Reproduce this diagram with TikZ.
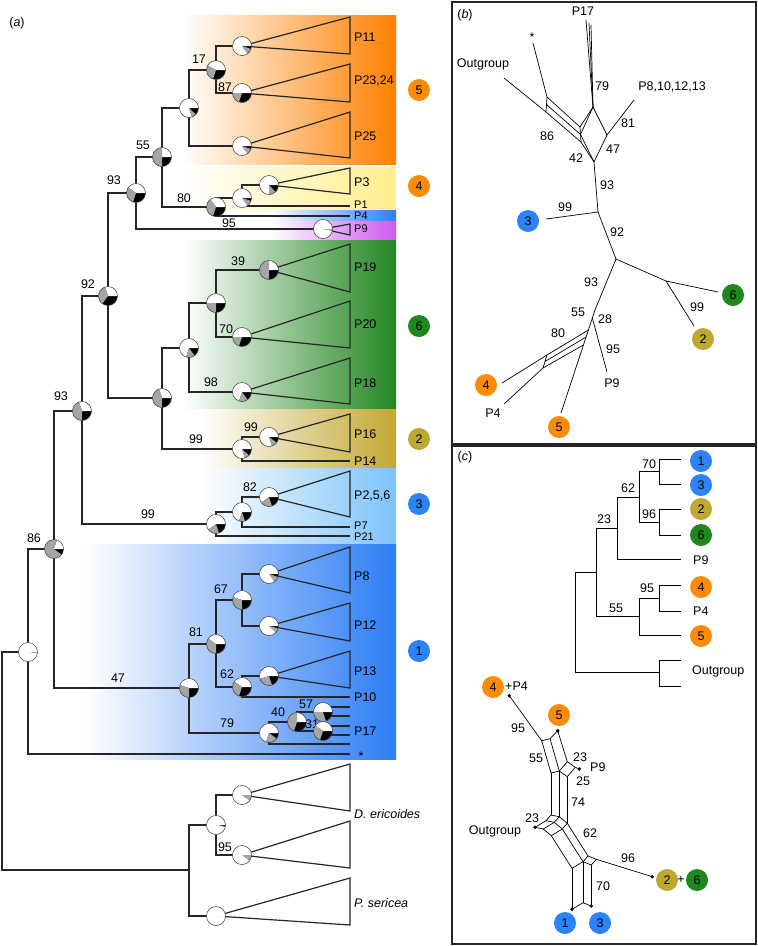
\documentclass[tikz,border=0pt]{standalone}
\usepackage{fontspec}
\setmainfont{Liberation Sans}
\usetikzlibrary{calc}
\definecolor{bOr}{RGB}{255,128,0}
\definecolor{bYe}{RGB}{255,238,140}
\definecolor{bBl}{RGB}{45,125,245}
\definecolor{bLb}{RGB}{125,195,250}
\definecolor{bGr}{RGB}{35,135,35}
\definecolor{bOl}{RGB}{195,168,50}
\definecolor{bMa}{RGB}{205,90,240}
\definecolor{cOr}{RGB}{250,140,10}
\definecolor{cBl}{RGB}{45,130,245}
\definecolor{cGr}{RGB}{30,135,30}
\definecolor{cOl}{RGB}{190,168,50}
\definecolor{pieg}{RGB}{165,165,165}
\newcount\lbn
\newcommand\lab[3]{\global\advance\lbn by 1 \node[lbl] (t\the\lbn) at (#1,#2) {#3};}
\newcommand\tip[3]{\global\advance\lbn by 1 \node[tipl] (t\the\lbn) at (#1,#2) {#3};}
\newcommand\tips[3]{\global\advance\lbn by 1 \node[tipl,font=\fontsize{11}{12}\selectfont] (t\the\lbn) at (#1,#2) {#3};}
\newcommand\grp[4]{\global\advance\lbn by 1 \node[grpc,fill=#3] (t\the\lbn) at (#1,#2) {#4};}
\newcommand\pie[3]{%
 \begin{scope}[shift={(#1)}]
  \fill[black] (0,0) circle[radius=9.5];
  \fill[white] (0,0) -- (0:9.5) arc[start angle=0,delta angle={-3.6*#2},radius=9.5] -- cycle;
  \fill[pieg] (0,0) -- ({-3.6*#2}:9.5) arc[start angle={-3.6*#2},delta angle={-3.6*#3},radius=9.5] -- cycle;
  \draw[black!70,line width=0.5pt] (0,0) circle[radius=9.5];
 \end{scope}}
\newcommand\tri[3]{\draw[tree,line join=miter] (#1) -- (350,#2) -- (350,#3) -- cycle;}
\begin{document}
\begin{tikzpicture}[x=1pt,y=-1pt,font=\fontsize{12.5}{14}\selectfont,
 tree/.style={draw=black!85,line width=1.2pt},
 net/.style={draw=black,line width=0.7pt},
 lbl/.style={inner sep=0pt,anchor=center},
 tipl/.style={inner sep=0pt,anchor=west},
 grpc/.style={circle,minimum size=22pt,inner sep=0pt},
 dotc/.style={circle,fill=black,minimum size=3.8pt,inner sep=0pt},
 panel/.style={draw=black!85,line width=1.6pt}]
\useasboundingbox (0,0) rectangle (758,946);
% ---------------- panel a: bands
\shade[left color=white,right color=bOr] (183,15) rectangle (396,164);
\shade[left color=white,right color=bYe] (183,167) rectangle (396,210);
\shade[left color=white,right color=bBl] (270,210) rectangle (396,221);
\shade[left color=white,right color=bMa] (270,221) rectangle (396,239);
\shade[left color=white,right color=bGr] (183,240) rectangle (396,409);
\shade[left color=white,right color=bOl] (200,409) rectangle (396,468);
\shade[left color=white,right color=bLb] (200,468) rectangle (396,544);
\shade[left color=white,right color=bBl] (85,544) rectangle (396,759);
% ---------------- panel a: nodes
\coordinate (i1) at (28,652);
\coordinate (n86) at (54,549);
\coordinate (n93b) at (82,411);
\coordinate (n92) at (108,296);
\coordinate (n93a) at (136,193);
\coordinate (n55) at (162,157);
\coordinate (n5) at (189,108);
\coordinate (n17) at (216,70);
\coordinate (p11) at (242,46);
\coordinate (p2324) at (242,93);
\coordinate (p25) at (242,146);
\coordinate (n80) at (216,207);
\coordinate (n4) at (242,198);
\coordinate (p3) at (269,185);
\coordinate (l1) at (350,206);
\coordinate (l4) at (350,216);
\coordinate (p9) at (323,229);
\coordinate (ng) at (162,398);
\coordinate (n6) at (189,348);
\coordinate (n39) at (216,303);
\coordinate (p19) at (269,270);
\coordinate (p20) at (242,337);
\coordinate (p18) at (242,392);
\coordinate (n2) at (242,449);
\coordinate (p16) at (269,437);
\coordinate (l14) at (350,461);
\coordinate (n3) at (216,524);
\coordinate (n82) at (242,512);
\coordinate (p256) at (269,497);
\coordinate (l7) at (350,527);
\coordinate (l21) at (350,536);
\coordinate (n47) at (189,688);
\coordinate (n81) at (216,644);
\coordinate (n67) at (242,600);
\coordinate (p8) at (269,574);
\coordinate (p12) at (269,626);
\coordinate (n62) at (242,687);
\coordinate (p13) at (269,676);
\coordinate (l10) at (350,697);
\coordinate (n79) at (269,733);
\coordinate (n40) at (297,722);
\coordinate (n57) at (323,712);
\coordinate (n31) at (323,731);
\coordinate (la) at (350,707);
\coordinate (lb) at (350,716);
\coordinate (lc) at (350,726);
\coordinate (ld) at (350,735);
\coordinate (le) at (350,744);
\coordinate (lstar) at (350,754);
\coordinate (r0) at (2,760);
\coordinate (og) at (189,870);
\coordinate (og1) at (216,825);
\coordinate (de1) at (242,795);
\coordinate (de2) at (242,855);
\coordinate (ps) at (216,916);
% edges
\draw[tree] (i1) -| (r0) |- (og);
\foreach \a/\b in {i1/n86,i1/lstar,n86/n93b,n86/n47,n93b/n92,n93b/n3,n92/n93a,n92/ng,
  n93a/n55,n93a/p9,n55/n5,n55/n80,n5/n17,n5/p25,n17/p11,n17/p2324,n80/n4,n80/l4,n4/p3,n4/l1,
  ng/n6,ng/n2,n6/n39,n6/p18,n39/p19,n39/p20,n2/p16,n2/l14,n3/n82,n3/l21,n82/p256,n82/l7,
  n47/n81,n47/n79,n81/n67,n81/n62,n67/p8,n67/p12,n62/p13,n62/l10,n79/n40,n79/le,
  n40/n57,n40/n31,n57/la,n57/lb,n31/lc,n31/ld,og/og1,og/ps,og1/de1,og1/de2}
  {\draw[tree] (\a) |- (\b);}
% triangles
\tri{p11}{17}{54}
\tri{p2324}{64}{102}
\tri{p25}{112}{158}
\tri{p3}{168}{194}
\tri{p9}{224}{235}
\tri{p19}{244}{292}
\tri{p20}{301}{348}
\tri{p18}{358}{404}
\tri{p16}{414}{452}
\tri{p256}{471}{517}
\tri{p8}{547}{593}
\tri{p12}{603}{641}
\tri{p13}{651}{688}
\tri{de1}{764}{811}
\tri{de2}{821}{868}
\tri{ps}{878}{925}
\lab{312}{724}{31}
% pies
\pie{i1}{98}{2}
\pie{n86}{20}{70}
\pie{n93b}{30}{45}
\pie{n92}{30}{35}
\pie{n93a}{40}{30}
\pie{n55}{25}{50}
\pie{n5}{80}{8}
\pie{n17}{42}{28}
\pie{p11}{85}{10}
\pie{p2324}{50}{20}
\pie{p25}{85}{10}
\pie{n80}{35}{35}
\pie{n4}{85}{10}
\pie{p3}{75}{12}
\pie{p9}{97}{3}
\pie{ng}{30}{45}
\pie{n6}{70}{15}
\pie{n39}{50}{25}
\pie{p19}{25}{50}
\pie{p20}{50}{20}
\pie{p18}{70}{15}
\pie{n2}{80}{8}
\pie{p16}{80}{10}
\pie{n3}{60}{20}
\pie{n82}{70}{10}
\pie{p256}{60}{20}
\pie{n47}{45}{30}
\pie{n81}{40}{35}
\pie{n67}{45}{30}
\pie{p8}{85}{10}
\pie{p12}{88}{8}
\pie{n62}{40}{30}
\pie{p13}{55}{25}
\pie{n79}{70}{20}
\pie{n40}{25}{45}
\pie{n57}{50}{30}
\pie{n31}{40}{30}
\pie{og1}{97}{1}
\pie{de1}{90}{10}
\pie{de2}{90}{10}
\pie{ps}{99.5}{0.5}
% support labels
\lab{17}{23}{(\textit{a})}
\lab{199}{59}{17}
\lab{225}{87}{87}
\lab{143}{145}{55}
\lab{114}{180}{93}
\lab{184}{198}{80}
\lab{229}{223}{95}
\lab{238}{261}{39}
\lab{88}{284}{92}
\lab{226}{329}{70}
\lab{211}{382}{98}
\lab{61}{396}{93}
\lab{251}{427}{99}
\lab{196}{439}{99}
\lab{250}{487}{82}
\lab{148}{514}{99}
\lab{34}{538}{86}
\lab{221}{589}{67}
\lab{196}{632}{81}
\lab{227}{674}{62}
\lab{118}{678}{47}
\lab{278}{712}{40}
\lab{306}{704}{57}
\lab{227}{723}{79}
\lab{225}{847}{95}
% leaf labels
\tip{354}{37}{P11}
\tip{354}{81}{P23,24}
\tip{354}{136}{P25}
\tip{354}{182}{P3}
\tips{354}{205}{P1}
\tips{354}{216}{P4}
\tips{354}{229}{P9}
\tip{354}{267}{P19}
\tip{354}{324}{P20}
\tip{354}{383}{P18}
\tip{354}{434}{P16}
\tip{354}{461}{P14}
\tip{354}{496}{P2,5,6}
\tips{354}{526}{P7}
\tips{354}{537}{P21}
\tip{354}{576}{P8}
\tip{354}{625}{P12}
\tip{354}{671}{P13}
\tip{354}{697}{P10}
\tip{354}{731}{P17}
\lab{361}{756}{*}
\tip{354}{814}{\textit{D. ericoides}}
\tip{354}{903}{\textit{P. sericea}}
% group circles
\grp{419}{90}{cOr}{5}
\grp{419}{186}{cOr}{4}
\grp{419}{326}{cGr}{6}
\grp{419}{439}{cOl}{2}
\grp{419}{504}{cBl}{3}
\grp{419}{651}{cBl}{1}
% ---------------- panel b
\draw[panel] (452,2) rectangle (756,444);
\draw[panel] (452,446) rectangle (756,944);
\lab{465}{15}{(\textit{b})}
\coordinate (bPa) at (586,20);
\coordinate (bPb) at (589,23);
\coordinate (bPc) at (591,25);
\coordinate (bT) at (593,107);
\coordinate (bS0) at (533,43);
\coordinate (bA) at (547,97);
\coordinate (bO0) at (504,78);
\coordinate (bB) at (546,112);
\coordinate (bAm) at (546.5,104.5);
\coordinate (bL1) at (580,127);
\coordinate (bL2) at (580.5,134.5);
\coordinate (bL3) at (581,142);
\coordinate (bR) at (607,135);
\coordinate (bBm) at (594,162);
\coordinate (bP8) at (634,100);
\coordinate (bJ1) at (598,212);
\coordinate (bC3) at (546,219);
\coordinate (bJ2) at (616,259);
\coordinate (bJ3) at (666,281);
\coordinate (bC6) at (718,292);
\coordinate (bC2) at (694,326);
\coordinate (bK1) at (595,310);
\coordinate (bC5) at (561,413);
\coordinate (bP9s) at ($(bK1)!0.078!(bC5)$);
\coordinate (bP9) at (607,372);
\coordinate (bS1) at ($(bK1)!0.194!(bC5)$);
\coordinate (bSm) at ($(bK1)!0.262!(bC5)$);
\coordinate (bS2) at ($(bK1)!0.340!(bC5)$);
\coordinate (bQ1) at (547,355);
\coordinate (bQm) at (545,361.5);
\coordinate (bQ2) at (543,368);
\coordinate (bC4) at (502,383);
\coordinate (bCP4) at (504,404);
\foreach \a/\b in {bPa/bT,bPb/bT,bPc/bT,bS0/bA,bO0/bB,bA/bB,bA/bL1,bAm/bL2,bB/bL3,bL1/bL3,
  bT/bL1,bT/bL2,bL2/bBm,bL3/bBm,bT/bR,bR/bBm,bR/bP8,bBm/bJ1,bJ1/bC3,bJ1/bJ2,bJ2/bJ3,bJ3/bC6,
  bJ3/bC2,bJ2/bK1,bK1/bC5,bP9s/bP9,bS1/bQ1,bSm/bQm,bS2/bQ2,bQ1/bQ2,bQ1/bC4,bQ2/bCP4}
  {\draw[net] (\a) -- (\b);}
\lab{583}{11}{P17}
\lab{532}{37}{*}
\lab{483}{64}{Outgroup}
\lab{602}{86}{79}
\lab{672}{87}{P8,10,12,13}
\lab{628}{123}{81}
\lab{547}{136}{86}
\lab{613}{149}{47}
\lab{576}{158}{42}
\lab{607}{185}{93}
\lab{565}{207}{99}
\lab{617}{232}{92}
\lab{591}{282}{93}
\lab{697}{307}{99}
\lab{578}{312}{55}
\lab{605}{319}{28}
\lab{558}{333}{80}
\lab{613}{349}{95}
\lab{612}{383}{P9}
\lab{493}{413}{P4}
\grp{528}{221}{cBl}{3}
\grp{733}{295}{cGr}{6}
\grp{703}{339}{cOl}{2}
\grp{486}{385}{cOr}{4}
\grp{559}{427}{cOr}{5}
% ---------------- panel c tree
\lab{465}{457}{(\textit{c})}
\coordinate (cr) at (575,622);
\coordinate (cin) at (596,572);
\coordinate (cog) at (659,672);
\coordinate (c23) at (617,528);
\coordinate (c55) at (639,616);
\coordinate (c62) at (639,497);
\coordinate (cp9) at (681,559);
\coordinate (c70) at (659,471);
\coordinate (c96) at (659,522);
\coordinate (c95) at (659,598);
\coordinate (c5) at (681,635);
\coordinate (c1) at (681,459);
\coordinate (c3) at (681,484);
\coordinate (c2) at (681,509);
\coordinate (c6) at (681,535);
\coordinate (c4) at (681,585);
\coordinate (cp4) at (681,611);
\coordinate (co1) at (681,660);
\coordinate (co2) at (681,686);
\foreach \a/\b in {cr/cin,cr/cog,cin/c23,cin/c55,c23/c62,c23/cp9,c62/c70,c62/c96,
  c70/c1,c70/c3,c96/c2,c96/c6,c55/c95,c55/c5,c95/c4,c95/cp4,cog/co1,cog/co2}
  {\draw[net,line width=0.9pt] (\a) |- (\b);}
\lab{649}{464}{70}
\lab{628}{488}{62}
\lab{649}{514}{96}
\lab{604}{519}{23}
\lab{647}{588}{95}
\lab{616}{608}{55}
\tip{693}{560}{P9}
\tip{693}{611}{P4}
\tip{692}{671}{Outgroup}
\grp{701}{461}{cBl}{1}
\grp{701}{485}{cBl}{3}
\grp{701}{509}{cOl}{2}
\grp{701}{535}{cGr}{6}
\grp{701}{587}{cOr}{4}
\grp{701}{636}{cOr}{5}
% ---------------- panel c network
\coordinate (d4) at (509.3,695.7);
\coordinate (nP) at (541.7,740.7);
\coordinate (nQ) at (550,738.7);
\coordinate (d5) at (557.7,730.7);
\coordinate (nR1) at (567.3,761.7);
\coordinate (nPL) at (551,773);
\coordinate (nR2) at (559.3,771);
\coordinate (nR4) at (575.3,767.3);
\coordinate (nR3) at (567.3,776.7);
\coordinate (d9) at (579.3,769);
\coordinate (nU1) at (551,815);
\coordinate (nU2) at (559.3,816.7);
\coordinate (nU3) at (567.3,823.3);
\coordinate (nK1) at (546,820.7);
\coordinate (nK2) at (554.3,822.3);
\coordinate (nK3) at (562.3,829);
\coordinate (nM2) at (543.3,829);
\coordinate (nN1) at (551.3,835.7);
\coordinate (dO) at (535,827.3);
\coordinate (nB5) at (588,856);
\coordinate (nB4) at (596.3,859.3);
\coordinate (nB2) at (583,861.7);
\coordinate (nB3) at (591.3,865);
\coordinate (nB1) at (572,868.3);
\coordinate (d1) at (572,909.3);
\coordinate (nBm) at (583,902.7);
\coordinate (d3) at (591.3,906);
\coordinate (d26) at (652.3,876.7);
\foreach \a/\b in {d4/nP,nP/nQ,nQ/d5,d5/nR1,nQ/nR2,nP/nPL,nPL/nR2,nR1/nR2,nR1/nR4,nR4/d9,
  nR2/nR3,nR3/nR4,nPL/nU1,nR2/nU2,nR3/nU3,nU1/nU2,nU2/nU3,nU1/nK1,nU2/nK2,nU3/nK3,
  nK1/nK2,nK2/nK3,nK2/nM2,nK3/nN1,nM2/nN1,dO/nK1,dO/nM2,nU3/nB5,nK3/nB2,nN1/nB1,
  nB1/nB2,nB2/nB5,nB5/nB4,nB4/nB3,nB3/nB2,nB1/d1,nB2/nBm,nB3/d3,d1/nBm,nBm/d3,nB4/d26}
  {\draw[net] (\a) -- (\b);}
\foreach \d in {d4,d5,d9,dO,d1,d3,d26} {\node[dotc] at (\d) {};}
\grp{493}{687}{cOr}{4}
\tip{505}{686}{+P4}
\grp{559}{715}{cOr}{5}
\lab{518}{728}{95}
\lab{536}{758}{55}
\lab{580}{757}{23}
\tip{590}{767}{P9}
\lab{583}{781}{25}
\lab{578}{802}{74}
\lab{532}{818}{23}
\lab{495}{831}{Outgroup}
\lab{590}{833}{62}
\lab{628}{858}{96}
\lab{603}{886}{70}
\grp{667}{880}{cOl}{2}
\lab{681}{880}{+}
\grp{697}{880}{cGr}{6}
\grp{565}{923}{cBl}{1}
\grp{600}{923}{cBl}{3}
\end{tikzpicture}
\end{document}
